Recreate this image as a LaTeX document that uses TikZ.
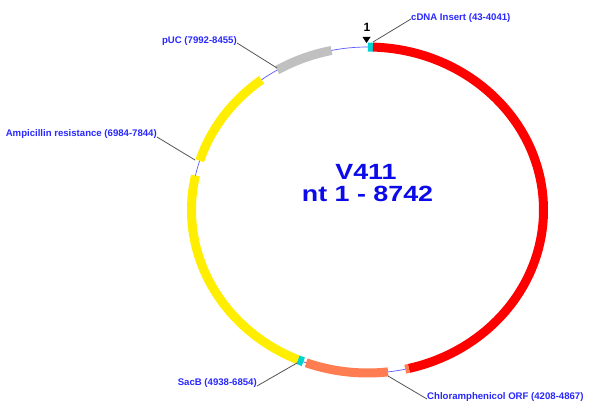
\documentclass[tikz,border=0pt]{standalone}
\usepackage{fontspec}
\setmainfont{Liberation Sans}
\definecolor{featred}{RGB}{255,0,0}
\definecolor{featcoral}{RGB}{255,125,80}
\definecolor{featyellow}{RGB}{255,238,0}
\definecolor{featgray}{RGB}{192,192,192}
\definecolor{featcyan}{RGB}{0,210,210}
\definecolor{backbone}{RGB}{90,90,255}
\definecolor{labblue}{RGB}{40,40,255}
\definecolor{titleblue}{RGB}{10,10,235}
\definecolor{leader}{RGB}{85,85,85}
\newcommand\featarc[3]{\draw[feat,#3] (C) ++({90-#1}:176 and 163) arc[start angle={90-#1}, end angle={90-#2}, x radius=176, y radius=163];}
\begin{document}
\begin{tikzpicture}[x=1pt,y=1pt,
  feat/.style={line width=9pt,line cap=butt},
  lab/.style={font=\bfseries\fontsize{9.6}{11}\selectfont,text=labblue,inner sep=0pt},
  titletext/.style={font=\bfseries\fontsize{22}{22}\selectfont,text=titleblue,inner sep=0pt},
  leadline/.style={draw=leader,line width=0.8pt}]
\useasboundingbox (0,0) rectangle (599,415);
\coordinate (C) at (367.5,205);
% backbone
\draw[backbone,line width=0.7pt] (C) ellipse[x radius=176, y radius=163];
% features
\featarc{0.1}{1.77}{featcyan}
\featarc{1.77}{166.4}{featred}
\featarc{166.4}{167.6}{featcoral}
\featarc{173.3}{200.4}{featcoral}
\featarc{201.4}{203.3}{featcyan}
\featarc{203.3}{282.2}{featyellow}
\featarc{287.6}{323}{featyellow}
\featarc{329.1}{348.2}{featgray}
% start marker
\node[font=\bfseries\fontsize{12}{14}\selectfont,inner sep=0pt] (one) at (367,388) {1};
\fill[black] (362.5,378) -- (370.5,378) -- (366.5,372) -- cycle;
% title
\node[titletext] (title1) at (366,243.5) {\scalebox{1.22}[1]{V411}};
\node[titletext] (title2) at (367.5,221.5) {\scalebox{1.22}[1]{nt 1 - 8742}};
% labels
\node[lab,anchor=west] (cdnaL) at (411,397) {cDNA Insert (43-4041)};
\node[lab,anchor=east] (pucL) at (237,374) {pUC (7992-8455)};
\node[lab,anchor=east] (ampL) at (157,281) {Ampicillin resistance (6984-7844)};
\node[lab,anchor=east] (sacL) at (257,32) {SacB (4938-6854)};
\node[lab,anchor=west] (chlL) at (427,18) {Chloramphenicol ORF (4208-4867)};
% anchor points on the map
\coordinate (cdnaP) at (373,373);
\coordinate (pucP) at (277,347);
\coordinate (ampP) at (195,255);
\coordinate (sacP) at (297,52);
\coordinate (chlP) at (388,39);
% leader lines
\draw[leadline] (cdnaP) -- ([yshift=-1pt]cdnaL.west);
\draw[leadline] ([yshift=-2pt]pucL.east) -- (pucP);
\draw[leadline] ([yshift=-3pt]ampL.east) -- (ampP);
\draw[leadline] ([yshift=-3pt]sacL.east) -- (sacP);
\draw[leadline] (chlP) -- ([yshift=-2pt]chlL.west);
\end{tikzpicture}
\end{document}
